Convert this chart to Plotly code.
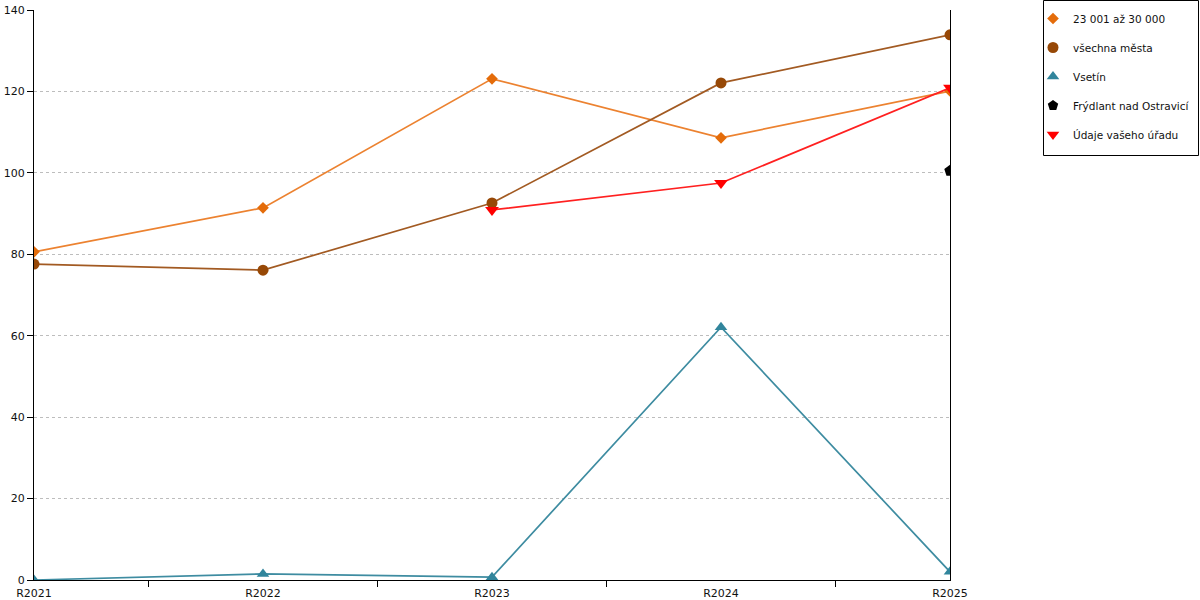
import plotly.graph_objects as go

categories = ["R2021", "R2022", "R2023", "R2024", "R2025"]
s_23001 = [80.6, 91.4, 123.1, 108.6, 120.1]
s_vsechna = [77.6, 76.1, 92.6, 122.1, 133.9]
s_vsetin = [0.0, 1.5, 0.7, 62.1, 2.0]
s_frydlant = [None, None, None, None, 100.5]
s_udaje = [None, None, 90.9, 97.5, 120.9]

names = ["23 001 až 30 000", "všechna města", "Vsetín", "Frýdlant nad Ostravicí", "Údaje vašeho úřadu"]
colors = ["#E46C0A", "#974806", "#31859C", "#000000", "#FF0000"]
line_colors = ["#EC8230", "#A25A22", "#3E8CA1", "#000000", "#FF2020"]
symbols = ["diamond", "circle", "triangle-up", "pentagon", "triangle-down"]
sizes = [9, 11, 11, 12, 12]
series = [s_23001, s_vsechna, s_vsetin, s_frydlant, s_udaje]

W, H = 1200, 600
L, R, T, B = 34, 250, 10, 20
pw, ph = W - L - R, H - T - B

fig = go.Figure()
for i, (n, c, lc, sym, sz, ys) in enumerate(zip(names, colors, line_colors, symbols, sizes, series)):
    fig.add_trace(go.Scatter(
        x=categories, y=ys, name=n, mode="lines+markers",
        line=dict(color=lc, width=1.7),
        marker=dict(color=c, symbol=sym, size=sz),
        showlegend=False, connectgaps=False,
    ))
for i, (n, c, sym, sz) in enumerate(zip(names, colors, symbols, sizes)):
    fig.add_trace(go.Scatter(
        x=[None], y=[None], name=n, mode="markers",
        marker=dict(color=c, symbol=sym, size=min(sz, 11)),
        legendgroup=f"g{i}", showlegend=True,
    ))

# legend frame
fig.add_shape(
    type="rect", xref="paper", yref="paper",
    x0=(1043.5 - L) / pw, x1=(1198.5 - L) / pw,
    y0=1 - (155.5 - T) / ph, y1=1 - (0.5 - T) / ph,
    line=dict(color="black", width=1), fillcolor="rgba(0,0,0,0)", layer="above",
)

fig.update_layout(
    width=W, height=H,
    margin=dict(l=L, r=R, t=T, b=B, autoexpand=False),
    plot_bgcolor="white", paper_bgcolor="white",
    font=dict(family="DejaVu Sans", size=11, color="#111"),
    showlegend=True,
    legend=dict(
        x=(1033 - L) / pw, y=1 + (T - 4) / ph,
        xanchor="left", yanchor="top", itemwidth=30,
        borderwidth=0, bgcolor="rgba(0,0,0,0)",
        tracegroupgap=10, font=dict(size=10.5, color="#111"),
    ),
)
fig.update_xaxes(
    type="category", range=[0, 4], showgrid=False, automargin=False,
    showline=True, linecolor="black", linewidth=1,
    ticks="outside", tickson="boundaries", ticklen=6, tickcolor="black",
    tickfont=dict(size=11), ticklabelstandoff=3,
)
fig.update_yaxes(
    range=[0, 140], dtick=20, showgrid=True, gridcolor="#BDBDBD", griddash="dot",
    showline=True, linecolor="black", linewidth=1, mirror=True, automargin=False,
    ticks="outside", ticklen=6, tickcolor="black", zeroline=False,
    tickfont=dict(size=11),
)
fig.write_html("out.html", config={"displayModeBar": False},
               post_script="document.body.style.margin='0';")
